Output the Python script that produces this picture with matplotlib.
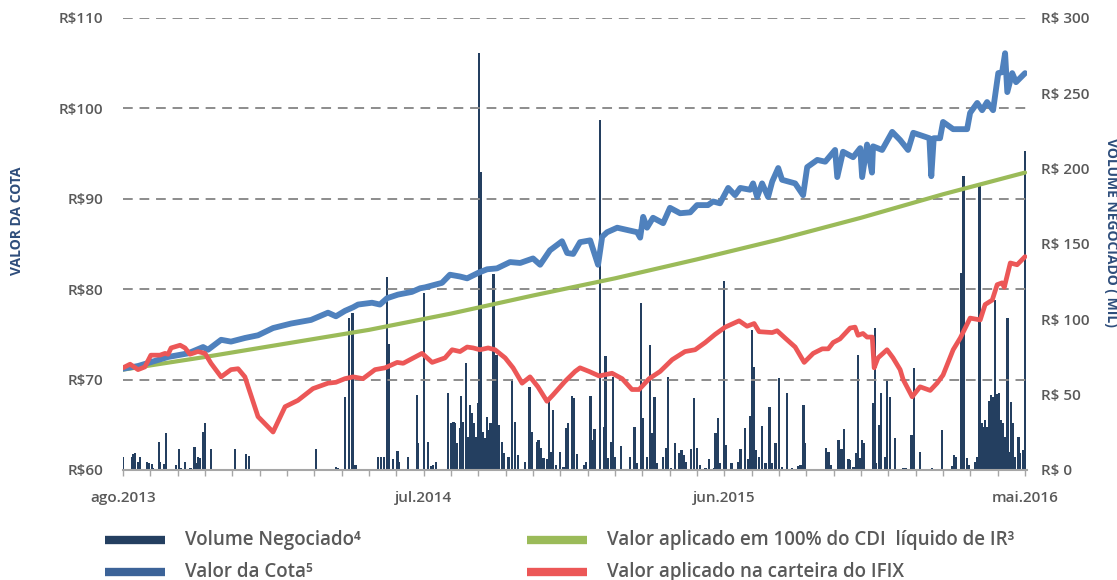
import numpy as np
import matplotlib.pyplot as plt
from matplotlib.lines import Line2D

plt.rcParams['font.family'] = ['Open Sans', 'DejaVu Sans']

# x axis: months since ago.2013
month_ticks = [0, 11, 22, 33]
month_labels = ['ago.2013', 'jul.2014', 'jun.2015', 'mai.2016']

left_ticks = [60, 70, 80, 90, 100, 110]
left_labels = ['R$60', 'R$70', 'R$80', 'R$90', 'R$100', 'R$110']
right_ticks = [0, 50, 100, 150, 200, 250, 300]
right_labels = ['R$ 0', 'R$ 50', 'R$ 100', 'R$ 150', 'R$ 200', 'R$ 250', 'R$ 300']

# Valor da Cota (R$)
cota_x = [0.00, 0.55, 1.65, 2.38, 2.93, 3.11, 3.59, 3.95, 4.46, 4.94, 5.49, 6.15, 6.88,
          7.50, 7.79, 8.12, 8.42, 8.60, 9.11, 9.40, 9.66, 10.06, 10.57, 10.87, 11.05,
          11.67, 11.96, 12.33, 12.59, 12.99, 13.32, 13.68, 14.16, 14.53, 15.00, 15.26,
          15.62, 16.06, 16.25, 16.47, 16.72, 17.09, 17.38, 17.53, 17.71, 18.08, 18.81,
          18.92, 19.03, 19.17, 19.39, 19.76, 20.01, 20.38, 20.75, 21.00, 21.40, 21.59,
          21.84, 22.14, 22.39, 22.58, 22.94, 23.05, 23.20, 23.38, 23.60, 23.75, 23.97,
          24.11, 24.59, 24.88, 25.03, 25.40, 25.69, 26.05, 26.13, 26.34, 26.71, 26.97,
          27.04, 27.22, 27.40, 27.44, 27.77, 28.14, 28.43, 28.72, 28.91, 29.50, 29.57,
          29.66, 29.89, 30.00, 30.37, 30.88, 30.99, 31.25, 31.43, 31.61, 31.83, 32.02,
          32.16, 32.27, 32.35, 32.53, 32.67, 33.00]
cota_y = [71.2, 71.5, 72.5, 72.9, 73.6, 73.3, 74.4, 74.2, 74.6, 74.9, 75.7, 76.2, 76.6,
          77.4, 77.0, 77.6, 78.0, 78.3, 78.5, 78.3, 79.0, 79.4, 79.7, 80.1, 80.2,
          80.7, 81.6, 81.4, 81.2, 81.8, 82.2, 82.3, 83.0, 82.9, 83.4, 82.7,
          84.3, 85.3, 84.0, 83.9, 85.2, 85.4, 82.7, 85.8, 86.3, 86.8, 86.3,
          85.7, 88.0, 86.8, 87.9, 87.3, 89.0, 88.4, 88.5, 89.3, 89.3, 89.7,
          89.5, 91.2, 90.4, 91.2, 91.0, 91.7, 90.2, 91.7, 90.2, 91.9, 93.4,
          92.1, 91.7, 90.4, 93.5, 94.3, 94.1, 95.4, 92.4, 95.2, 94.6, 95.6,
          92.4, 96.0, 92.9, 95.8, 95.4, 97.4, 96.5, 95.4, 97.3, 96.7, 92.5,
          96.7, 96.7, 98.5, 97.7, 97.7, 99.5, 100.6, 99.8, 100.7, 99.8, 103.9,
          104.0, 106.1, 101.8, 103.9, 102.9, 103.9]

# Valor aplicado em 100% do CDI liquido de IR (R$)
cdi_x = [0, 3, 6, 9, 12, 15, 18, 21, 24, 27, 30, 33]
cdi_y = [71.1, 72.5, 74.0, 75.5, 77.3, 79.3, 81.2, 83.3, 85.5, 87.9, 90.5, 92.9]

# Valor aplicado na carteira do IFIX (R$)
ifix_x = [0.00, 0.26, 0.55, 0.80, 1.02, 1.35, 1.54, 1.65, 1.76, 2.09, 2.27, 2.45, 2.74,
          3.00, 3.22, 3.59, 3.95, 4.21, 4.46, 4.94, 5.49, 5.93, 6.40, 6.95, 7.50, 7.79,
          8.12, 8.42, 8.78, 9.22, 9.59, 10.03, 10.25, 10.94, 11.31, 11.78, 12.04, 12.33,
          12.59, 12.81, 13.06, 13.36, 13.61, 13.98, 14.27, 14.60, 14.89, 15.18, 15.51,
          15.73, 16.17, 16.54, 16.72, 17.05, 17.42, 17.89, 18.26, 18.62, 18.88, 19.25,
          19.65, 20.09, 20.56, 20.93, 21.30, 21.66, 22.03, 22.54, 22.83, 23.09, 23.27,
          23.75, 23.93, 24.22, 24.59, 24.92, 25.25, 25.58, 25.80, 25.98, 26.23, 26.60,
          26.78, 26.89, 27.07, 27.22, 27.41, 27.48, 27.62, 27.95, 28.17, 28.43, 28.54,
          28.87, 29.16, 29.53, 29.78, 30.00, 30.37, 30.63, 30.99, 31.36, 31.54, 31.80,
          31.98, 32.16, 32.24, 32.46, 32.71, 33.00]
ifix_y = [71.3, 71.7, 71.1, 71.4, 72.7, 72.7, 72.9, 72.8, 73.5, 73.8, 73.5, 72.8, 73.1,
          72.9, 71.8, 70.3, 71.1, 71.2, 70.3, 65.9, 64.2, 67.0, 67.7, 69.0, 69.6, 69.7,
          70.1, 70.3, 70.1, 71.1, 71.3, 71.9, 71.8, 72.9, 71.9, 72.4, 73.3, 73.1,
          73.6, 73.5, 73.3, 73.5, 73.3, 72.4, 71.3, 69.6, 70.3, 69.2, 67.6,
          68.3, 69.8, 70.9, 71.3, 70.9, 70.4, 70.7, 70.1, 68.9, 68.9, 70.1,
          70.9, 72.2, 73.1, 73.3, 74.1, 75.0, 75.8, 76.5, 75.9, 76.2, 75.3,
          75.2, 75.4, 74.6, 73.6, 71.9, 72.9, 73.4, 73.4, 74.1, 74.5, 75.7,
          75.8, 74.9, 75.1, 74.7, 74.7, 71.3, 72.4, 73.3, 72.4, 71.1, 70.0,
          68.1, 69.2, 68.8, 69.6, 70.5, 73.3, 74.6, 76.8, 76.6, 78.3, 78.8,
          80.5, 80.7, 80.2, 82.9, 82.7, 83.6]

# Volume Negociado (R$ mil)
vol_x = [0.00, 0.33, 0.39, 0.45, 0.57, 0.63, 0.88, 0.94, 1.06, 1.10, 1.24, 1.31, 1.36,
         1.50, 1.58, 1.75, 1.95, 2.04, 2.13, 2.28, 2.44, 2.48, 2.62, 2.68, 2.74, 2.81,
         2.93, 2.99, 3.21, 3.90, 3.96, 4.02, 4.11, 4.51, 4.60, 5.00, 5.88, 7.07, 7.75,
         7.80, 7.87, 8.13, 8.26, 8.40, 8.51, 9.04, 9.34, 9.43, 9.56, 9.65, 9.74, 9.89,
         10.04, 10.10, 10.22, 10.42, 10.75, 10.80, 11.01, 11.17, 11.27, 11.35, 11.45,
         11.90, 12.00, 12.09, 12.15, 12.21, 12.33, 12.37, 12.45, 12.54, 12.61, 12.70,
         12.76, 12.85, 12.92, 12.98, 13.03, 13.08, 13.16, 13.25, 13.31, 13.37, 13.45,
         13.55, 13.67, 13.76, 13.86, 13.95, 14.10, 14.24, 14.34, 14.46, 14.71, 14.87,
         14.95, 15.14, 15.20, 15.29, 15.38, 15.50, 15.59, 15.66, 15.74, 15.83, 15.99,
         16.11, 16.23, 16.29, 16.42, 16.51, 16.60, 16.86, 16.94, 17.10, 17.16, 17.25,
         17.44, 17.59, 17.65, 17.73, 17.86, 17.92, 18.01, 18.23, 18.56, 18.71, 18.81,
         18.96, 19.03, 19.17, 19.28, 19.36, 19.45, 19.54, 19.75, 19.87, 19.94, 20.05,
         20.19, 20.33, 20.43, 20.51, 20.60, 20.79, 20.88, 21.00, 21.12, 21.31, 21.45,
         21.61, 21.67, 21.76, 21.85, 21.98, 22.04, 22.26, 22.49, 22.59, 22.75, 22.87,
         22.95, 23.01, 23.08, 23.16, 23.26, 23.38, 23.50, 23.65, 23.75, 23.87, 23.99,
         24.11, 24.30, 24.48, 24.70, 24.78, 24.90, 24.96, 25.38, 25.72, 25.81, 25.89,
         26.17, 26.26, 26.33, 26.38, 26.54, 26.60, 26.72, 26.82, 26.88, 26.94, 27.03,
         27.09, 27.21, 27.33, 27.45, 27.50, 27.55, 27.67, 27.72, 27.88, 27.96, 28.06,
         28.25, 28.55, 28.65, 28.83, 28.89, 28.94, 29.16, 29.47, 29.59, 29.96, 30.32,
         30.41, 30.47, 30.66, 30.75, 30.87, 30.93, 31.17, 31.24, 31.33, 31.42, 31.48,
         31.54, 31.62, 31.70, 31.76, 31.82, 31.90, 31.96, 32.04, 32.11, 32.17, 32.25,
         32.31, 32.36, 32.43, 32.48, 32.55, 32.64, 32.76, 32.82, 32.92, 32.96, 33.00]
vol_y = [8.4, 8.8, 10.6, 11.0, 5.5, 8.4, 5.5, 4.4, 3.8, 1.0, 0.5, 18.6, 5.3,
         3.8, 24.8, 0.4, 3.3, 14.2, 1.1, 5.5, 1.1, 1.3, 15.5, 4.4, 8.4, 7.7,
         25.4, 31.0, 14.2, 0.7, 0.7, 0.7, 13.7, 10.4, 9.5, 0.4, 0.4, 14.2, 0.4,
         2.2, 1.1, 48.7, 101.0, 104.0, 3.3, 0.4, 8.4, 8.4, 8.4, 128.3, 83.4, 7.1,
         12.8, 5.3, 0.4, 8.4, 49.8, 18.1, 117.3, 18.8, 2.7, 3.3, 5.5,
         51.3, 31.0, 32.1, 31.0, 18.1, 27.7, 49.1, 32.1, 70.8, 22.1, 43.1,
         37.6, 31.0, 22.1, 44.2, 277.0, 198.0, 25.4, 21.0, 35.4, 26.5, 31.0,
         130.0, 76.3, 29.9, 18.8, 11.0, 8.8, 60.2, 32.1, 10.0, 5.5, 54.9,
         25.4, 18.8, 19.9, 14.4, 7.7, 7.1, 46.9, 12.2, 39.8, 3.3, 12.2,
         2.2, 27.7, 31.4, 49.1, 47.6, 10.6, 3.3, 5.5, 49.1, 19.9, 27.0,
         232.0, 28.8, 75.7, 7.7, 18.8, 61.9, 8.4, 15.9, 8.8, 28.8, 4.4,
         111.0, 34.3, 8.8, 83.0, 24.3, 48.7, 4.4, 8.4, 14.4, 61.9, 1.1,
         17.7, 11.0, 13.3, 10.0, 5.5, 13.7, 48.0, 14.4, 3.3, 1.1, 7.1,
         1.1, 24.8, 34.3, 4.4, 125.7, 16.6, 4.4, 5.5, 13.7, 27.7, 7.1,
         35.8, 92.9, 68.6, 13.3, 8.4, 29.2, 4.4, 42.0, 4.4, 18.1, 60.8,
         2.2, 51.3, 1.1, 2.7, 3.3, 43.1, 18.1, 0.4, 14.8, 12.2, 3.3,
         19.9, 13.7, 13.7, 27.0, 7.1, 6.6, 2.2, 11.0, 76.3, 7.7, 19.9,
         17.7, 0.4, 0.4, 44.7, 94.0, 4.4, 29.9, 51.3, 8.8, 59.7, 48.7,
         21.0, 1.1, 1.1, 23.2, 23.2, 67.5, 12.2, 0.4, 1.1, 26.5, 2.7,
         10.0, 8.8, 131.0, 195.0, 7.7, 3.3, 5.5, 8.8, 190.0, 31.0, 28.8,
         33.2, 28.8, 45.8, 49.6, 48.7, 112.8, 50.2, 50.9, 33.2, 31.0, 22.1,
         13.3, 100.7, 12.2, 45.4, 31.0, 8.8, 22.1, 11.0, 13.3, 13.3, 212.0]

navy = '#243F60'
blue = '#4F81BD'
green = '#9BBB59'
red = '#EC5757'
grey_txt = '#595959'
axis_blue = '#2E4D7B'

fig = plt.figure(figsize=(11.17, 5.8), dpi=100)
ax_vol = fig.add_axes([0.1101, 0.1897, 0.8093, 0.7793])
ax = ax_vol.twinx()

# volume bars (right scale)
ax_vol.bar(vol_x, vol_y, width=0.085, color=navy, zorder=2)
ax_vol.set_ylim(0, 300)
ax_vol.set_xlim(0, 33.07)
ax_vol.yaxis.tick_right()
ax_vol.set_yticks(right_ticks)
ax_vol.set_yticklabels(right_labels)
ax_vol.tick_params(axis='y', length=0, pad=10, labelsize=11, labelcolor=grey_txt)

ax_vol.set_xticks(range(34))
ax_vol.set_xticklabels([month_labels[month_ticks.index(i)] if i in month_ticks else ''
                        for i in range(34)])
ax_vol.tick_params(axis='x', length=4, width=1, color='#a6a6a6', pad=11,
                   labelsize=11, labelcolor=grey_txt)
for lab in ax_vol.get_xticklabels() + ax_vol.get_yticklabels():
    lab.set_fontweight('semibold')

for s in ['top', 'left', 'right']:
    ax_vol.spines[s].set_visible(False)
ax_vol.spines['bottom'].set_color('#a6a6a6')
ax_vol.spines['bottom'].set_linewidth(1.5)

# value lines (left scale)
ax.set_ylim(60, 110)
ax.yaxis.tick_left()
ax.set_yticks(left_ticks)
ax.set_yticklabels(left_labels, fontweight='semibold')
ax.tick_params(axis='y', length=0, pad=14, labelsize=11, labelcolor=grey_txt)
for s in ax.spines.values():
    s.set_visible(False)
for v in left_ticks[1:]:
    ax.axhline(v, color='#8c8c8c', lw=1.4, ls=(0, (5, 3.5)), zorder=1)

ax.plot(cdi_x, cdi_y, color=green, lw=3.0, zorder=2, solid_capstyle='round')
ax.plot(cota_x, cota_y, color=blue, lw=4.2, zorder=3, solid_joinstyle='round',
        solid_capstyle='round')
ax.plot(ifix_x, ifix_y, color=red, lw=3.4, zorder=4, solid_joinstyle='round',
        solid_capstyle='round')

fig.text(0.015, 0.62, 'VALOR DA COTA', rotation=90, ha='center', va='center',
         color=axis_blue, fontsize=10, fontweight='bold')
fig.text(0.9945, 0.60, 'VOLUME NEGOCIADO ( MIL)', rotation=-90, ha='center', va='center',
         color=axis_blue, fontsize=10, fontweight='bold')

# legend
legend_items = [
    ('Volume Negociado\u2074', navy, 105, 540),
    ('Valor da Cota\u2075', '#3C6398', 105, 572),
    ('Valor aplicado em 100% do CDI  líquido de IR\u00b3', green, 527, 540),
    ('Valor aplicado na carteira do IFIX', red, 527, 572),
]
W, H = 1117.0, 580.0
for label, col, px, py in legend_items:
    fig.add_artist(Line2D([px / W, (px + 60) / W], [1 - py / H, 1 - py / H],
                          color=col, lw=6, solid_capstyle='butt'))
    fig.text((px + 80) / W, 1 - py / H, label, ha='left', va='center',
             color=grey_txt, fontsize=13.5, fontweight='semibold')

fig.savefig('out.png', dpi=100)
